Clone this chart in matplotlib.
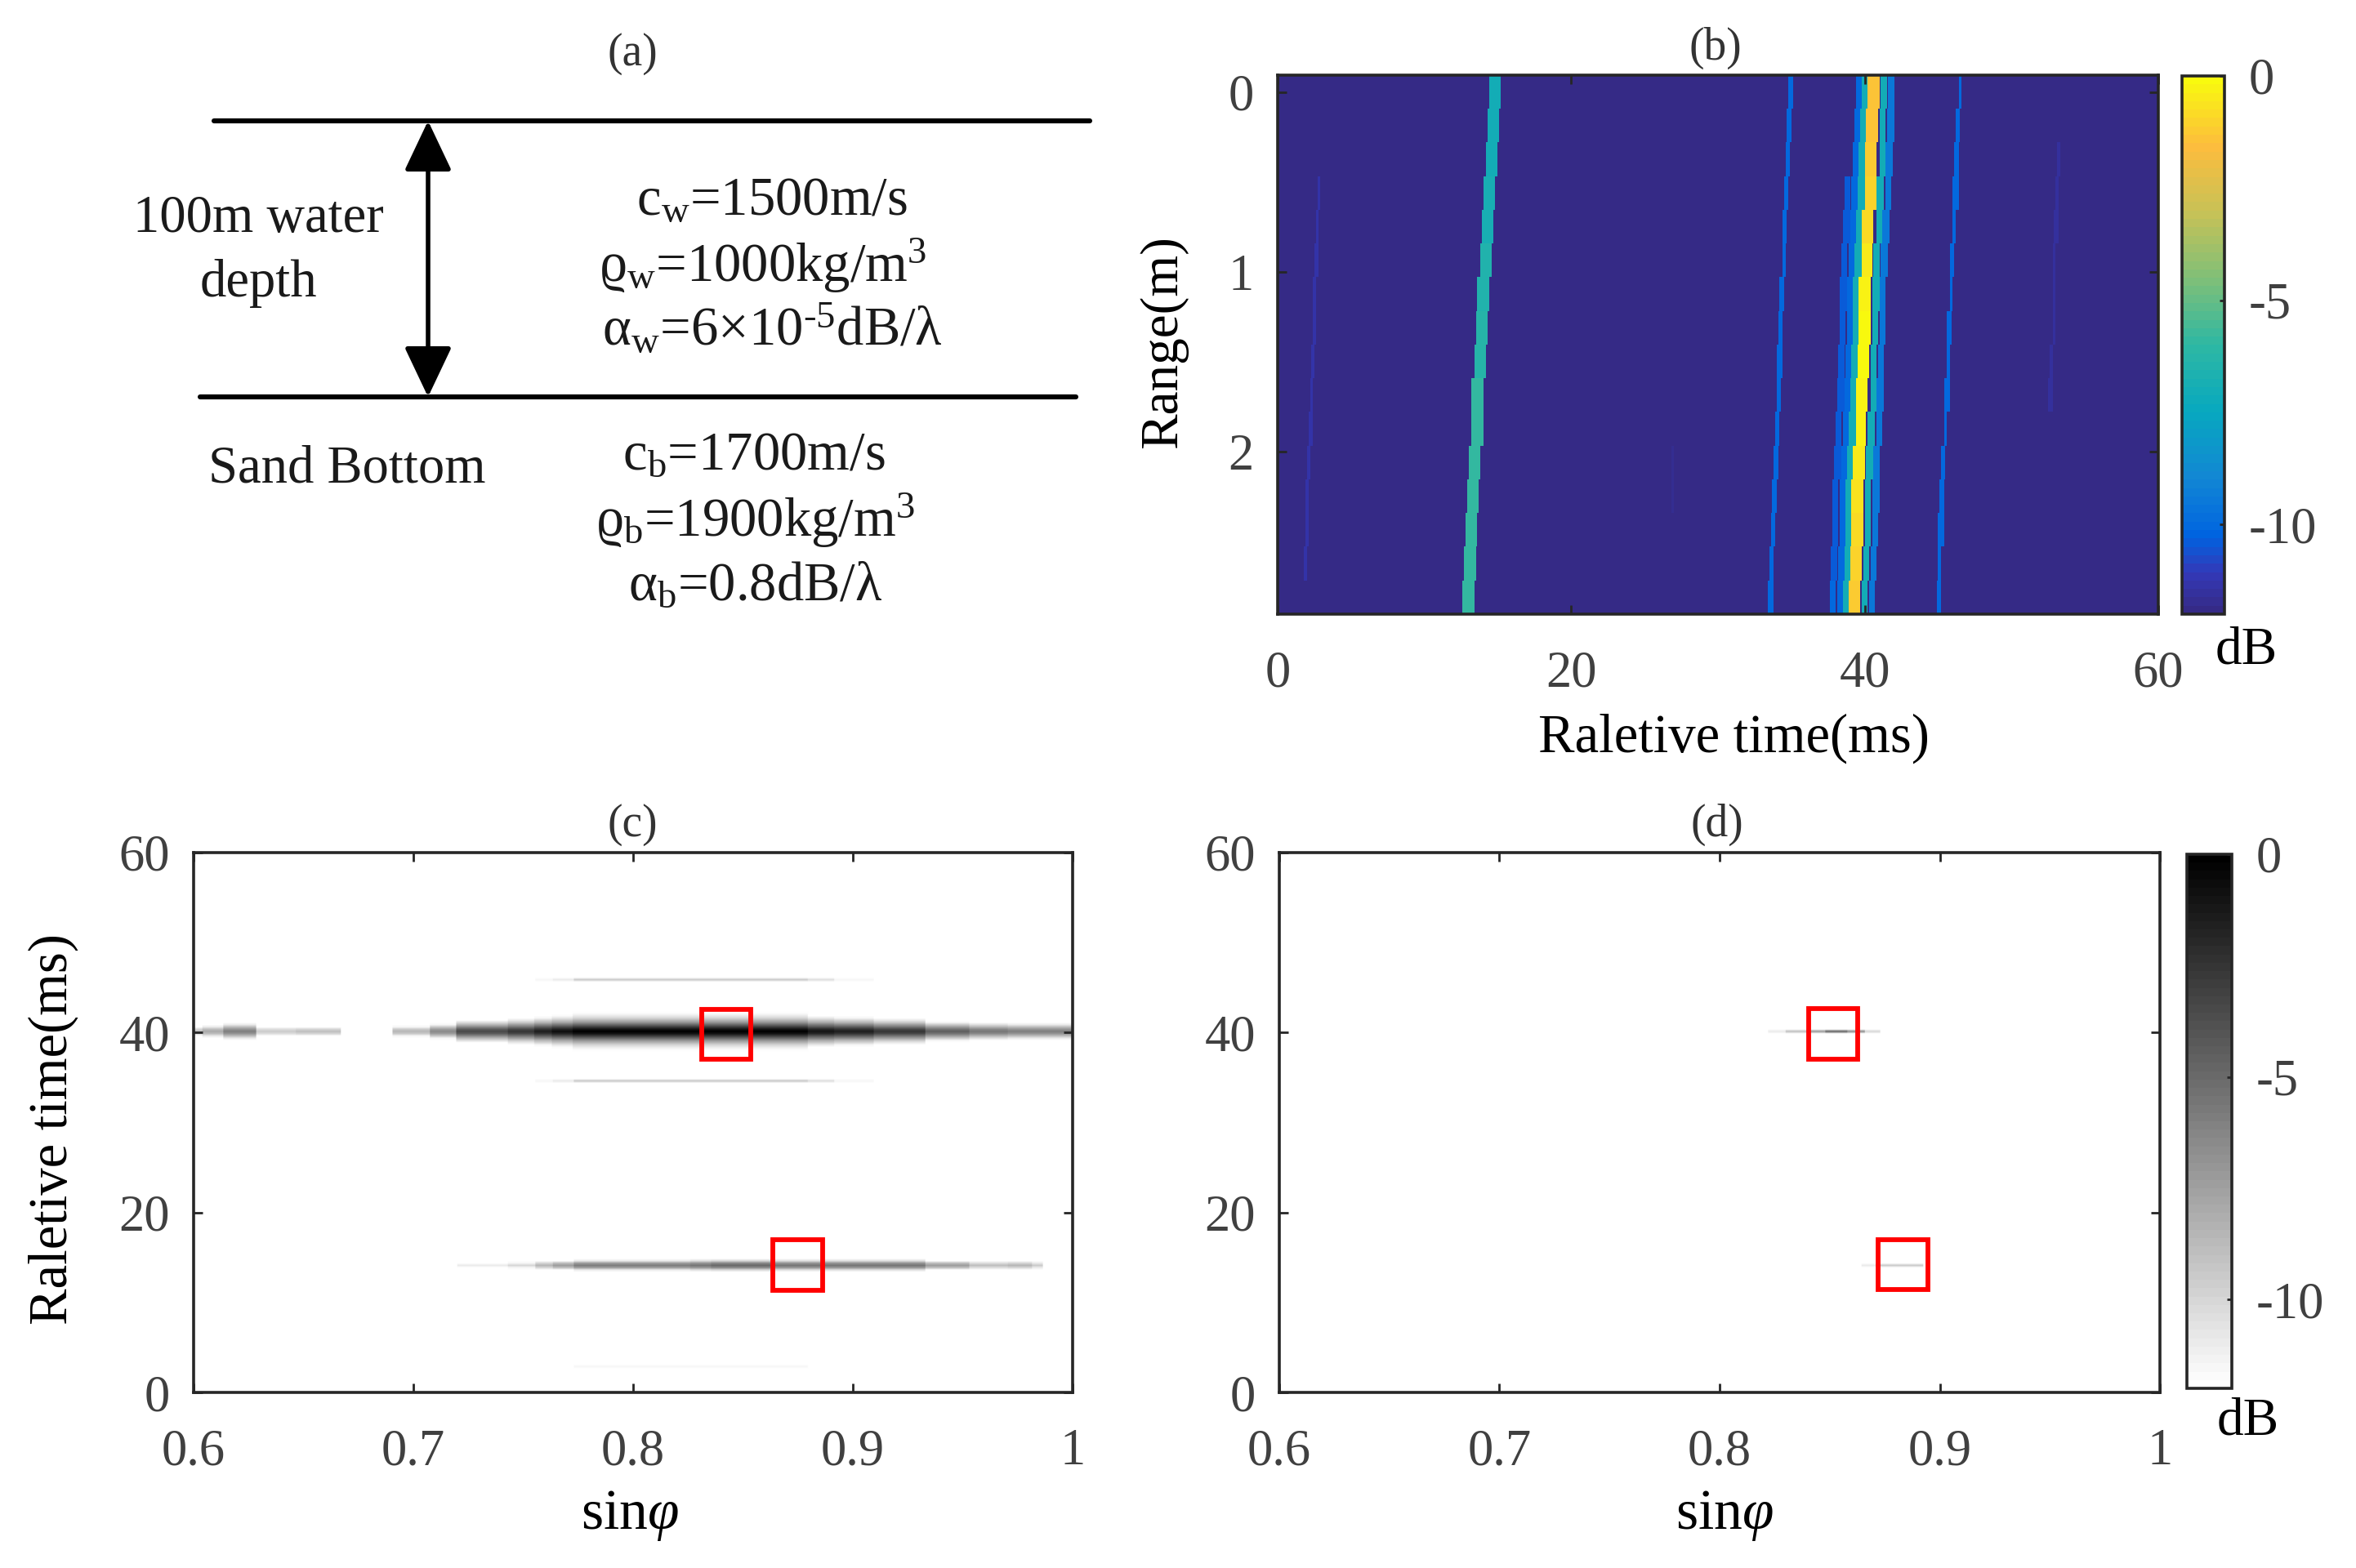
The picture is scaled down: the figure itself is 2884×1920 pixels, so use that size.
import numpy as np
import matplotlib
matplotlib.use('Agg')
import matplotlib.pyplot as plt
from matplotlib.colors import LinearSegmentedColormap
from matplotlib.patches import FancyArrowPatch, Rectangle

plt.rcParams['font.family'] = ['Liberation Serif', 'DejaVu Serif']
plt.rcParams['mathtext.fontset'] = 'custom'
plt.rcParams['mathtext.rm'] = 'Liberation Serif'
plt.rcParams['mathtext.it'] = 'Liberation Serif:italic'
plt.rcParams['mathtext.bf'] = 'Liberation Serif:bold'
plt.rcParams['axes.unicode_minus'] = False

W, H = 2884, 1920

# (b) arrival time (ms) of each stripe, one value per range step
n_rows = 16
track_direct = [14.75, 14.7, 14.55, 14.45, 14.3, 14.15, 14.05, 13.9,
                13.8, 13.65, 13.55, 13.4, 13.3, 13.2, 13.1, 13.05]
track_direct_db = [-7, -7, -7, -6.8, -6.8, -6.5, -6.5, -6.3,
                   -6.3, -6, -6, -6, -6, -6, -6, -6]
track_left = [34.95, 34.85, 34.75, 34.65, 34.55, 34.5, 34.4, 34.3,
              34.2, 34.15, 34.05, 33.95, 33.85, 33.75, 33.65, 33.6]
track_main = [40.6, 40.55, 40.45, 40.35, 40.25, 40.15, 40.05, 40.0,
              39.9, 39.85, 39.75, 39.65, 39.55, 39.5, 39.4, 39.3]
track_main_db = [-1.5, -1.5, -1.2, -1, -0.8, -0.5, -0.3, 0,
                 0, -0.2, -0.3, -0.5, -0.6, -0.8, -1, -1.3]
track_right = [46.5, 46.4, 46.3, 46.2, 46.1, 46.0, 45.9, 45.8,
               45.7, 45.6, 45.5, 45.4, 45.3, 45.2, 45.1, 45.05]
main_side_offsets = [-1.0, -0.6, 0.7, 1.2]
main_side_db = [-10, -7, -7, -9.5]
main_far_left_db = [-12, -12, -12, -10.5, -10.5, -10.5, -10.5, -10.5,
                    -10.5, -10.5, -10.5, -10.5, -10.5, -10.5, -10.5, -10]
faint_left_rows = [3, 4, 5, 6, 7, 8, 9, 10, 11, 12, 13, 14]
faint_left = [2.8, 2.7, 2.65, 2.55, 2.5, 2.4, 2.3, 2.25, 2.15, 2.05, 2.0, 1.9]
faint_right_rows = [2, 3, 4, 5, 6, 7, 8, 9]
faint_right = [53.2, 53.1, 53.05, 52.95, 52.9, 52.85, 52.75, 52.65]
faint_mid_rows = [11, 12]
faint_mid = [26.9, 26.9]

# (c) stripes: segment edges in sin(phi) and peak level (dB) per segment
main_edges = [0.6, 0.604, 0.6136, 0.6286, 0.6463, 0.6668, 0.6907, 0.7076, 0.7196,
              0.7428, 0.755, 0.7632, 0.7727, 0.8793, 0.8916, 0.9093, 0.933,
              0.9529, 0.9706, 0.9815, 0.9864, 1.0]
main_peaks = [-9, -8, -6, -9.5, -9, -12, -8.5, -6.5, -3.5, -2.5, -1.5, -0.7, 0,
              -1, -1.5, -2.5, -4.5, -5.5, -6, -6, -6]
low_edges = [0.7199, 0.7431, 0.7553, 0.7635, 0.773, 0.8262, 0.8357, 0.8629,
             0.8916, 0.9093, 0.933, 0.9529, 0.9706, 0.9815, 0.9864]
low_peaks = [-11, -10, -8.5, -7.5, -6, -5.5, -5, -5.5, -5.5, -5.5, -7.5, -9, -8.5, -9.5]
lobe_edges = [0.7553, 0.7635, 0.773, 0.8793, 0.8916, 0.9093]
lobe_peaks = [-11.6, -11, -9.5, -10.5, -11.5]
bottom_edges = [0.773, 0.8793]
bottom_peaks = [-11.5]
top_edges = [0.8262, 0.856]
top_peaks = [-11.85]
mid_edges = [0.8488, 0.861]
mid_peaks = [-11.9]

main_t, low_t, lobe_up_t, lobe_down_t, bottom_t, top_t, mid_t = 40.0, 14.1, 45.7, 34.4, 2.65, 52.7, 27.3
main_offs = [-2.0, -1.75, -1.5, -1.25, -1, -0.75, -0.5, -0.25, 0, 0.25, 0.5, 0.75, 1, 1.25, 1.5, 1.75, 2.0]
main_drops = [11.8, 11, 10, 8.5, 7, 5, 3, 1, 0, 1, 3, 5, 7, 8.5, 10, 11, 11.8]
low_offs = [-0.5, -0.25, 0, 0.25, 0.5]
low_drops = [5, 1.5, 0, 1.5, 5]
thin_offs = [0]
thin_drops = [0]

# (d) the two lines left after processing
d_up_edges = [0.822, 0.83, 0.84, 0.848, 0.858, 0.866, 0.873]
d_up_peaks = [-11, -9, -7, -4.5, -6.5, -10]
d_low_edges = [0.8647, 0.872, 0.8925]
d_low_peaks = [-11, -9.5]
d_up_t, d_low_t = 40.0, 14.0

# red boxes: (sin left, sin right, t low, t high)
boxes_c = [(0.8312, 0.8535, 37.0, 42.6), (0.8637, 0.8862, 11.35, 17.0)]
boxes_d = [(0.8406, 0.8628, 37.0, 42.7), (0.8721, 0.8947, 11.4, 17.0)]

cbar_ticks = [-10, -5, 0]
cbar_ticklabels = ['-10', '-5', '0']
time_ticks = [0, 20, 40, 60]
range_ticks = [0, 1, 2]
sin_ticks = [0.6, 0.7, 0.8, 0.9, 1.0]
sin_ticklabels = ['0.6', '0.7', '0.8', '0.9', '1']

parula = LinearSegmentedColormap.from_list('parula_old', [
    (0.00, (0.2081, 0.1663, 0.5292)),
    (0.07, (0.20, 0.22, 0.72)),
    (0.14, (0.0, 0.39, 0.88)),
    (0.25, (0.07, 0.53, 0.83)),
    (0.375, (0.03, 0.66, 0.75)),
    (0.5, (0.18, 0.72, 0.64)),
    (0.625, (0.50, 0.75, 0.47)),
    (0.75, (0.78, 0.76, 0.34)),
    (0.875, (0.99, 0.74, 0.24)),
    (1.00, (0.976, 0.98, 0.055))], N=64)
grays = LinearSegmentedColormap.from_list('gray64', ['white', 'black'], N=64)

DARK = '#262626'
LABEL = '#404040'


def px_axes(fig, left, top, right, bottom):
    return fig.add_axes([left / W, 1 - bottom / H, (right - left) / W, (bottom - top) / H])


def px_text(fig, x, y, s, **kw):
    kw.setdefault('ha', 'center')
    kw.setdefault('va', 'center')
    kw.setdefault('color', 'black')
    fig.text(x / W, 1 - y / H, s, **kw)


def style_axes(ax, xticks, yticks, xlabels=None):
    ax.set_xticks(xticks)
    ax.set_yticks(yticks)
    if xlabels is not None:
        ax.set_xticklabels(xlabels)
    ax.tick_params(direction='in', length=8, width=2, top=True, right=True, color=DARK)
    ax.tick_params(axis='x', pad=32, labelsize=45, labelcolor=LABEL)
    ax.tick_params(axis='y', pad=21, labelsize=45, labelcolor=LABEL)
    for sp in ax.spines.values():
        sp.set_linewidth(2.6)
        sp.set_color(DARK)


def style_cbar(cb):
    cb.set_ticks(cbar_ticks)
    cb.set_ticklabels(cbar_ticklabels)
    cb.ax.tick_params(direction='in', length=4, width=2, color=DARK, pad=21,
                      labelsize=45, labelcolor=LABEL)
    cb.outline.set_linewidth(2.6)
    cb.outline.set_edgecolor(DARK)


# grid helpers for the images
def stamp_row(grid, row, t, width, db, dt=0.1):
    c0 = int(round((t - width / 2) / dt))
    c1 = int(round((t + width / 2) / dt))
    grid[row, c0:c1] = np.maximum(grid[row, c0:c1], db)


def stamp_stripe(grid, t0, edges, peaks, offs, drops, dx=0.0005, dt=0.25):
    for i, pk in enumerate(peaks):
        c0 = int(round((edges[i] - 0.6) / dx))
        c1 = int(round((edges[i + 1] - 0.6) / dx))
        for off, drop in zip(offs, drops):
            r = int(round((t0 + off) / dt))
            grid[r, c0:c1] = np.maximum(grid[r, c0:c1], pk - drop)


fig = plt.figure(figsize=(W / 100, H / 100), dpi=100)

# (a) layer diagram, drawn in pixel units
ax_a = fig.add_axes([0, 0, 1, 1], zorder=0)
ax_a.set_xlim(0, W)
ax_a.set_ylim(H, 0)
ax_a.axis('off')
ax_a.plot([262, 1334], [148, 148], color='black', lw=4.4, solid_capstyle='round')
ax_a.plot([245, 1317], [486, 486], color='black', lw=4.4, solid_capstyle='round')
ax_a.add_patch(FancyArrowPatch((524, 148), (524, 486), arrowstyle='<|-|>,head_length=38,head_width=18',
                               mutation_scale=1, lw=4, color='black', shrinkA=0, shrinkB=0))
TXT = dict(fontsize=46.5, color='#1a1a1a')
TXT_EQ = dict(fontsize=48, color='#1a1a1a')
px_text(fig, 774, 66, '(a)', fontsize=40, color='#333333')
px_text(fig, 316, 268, '100m water', **TXT)
px_text(fig, 316, 347, 'depth', **TXT)
px_text(fig, 945, 246, r'c$_{\mathrm{w}}$=1500m/s', **TXT_EQ)
px_text(fig, 934, 325, r'ϱ$_{\mathrm{w}}$=1000kg/m$^{3}$', **TXT_EQ)
px_text(fig, 945, 404, r'α$_{\mathrm{w}}$=6×10$^{\text{-5}}$dB/λ', **TXT_EQ)
px_text(fig, 425, 575, 'Sand Bottom', **TXT)
px_text(fig, 923, 558, r'c$_{\mathrm{b}}$=1700m/s', **TXT_EQ)
px_text(fig, 925, 637, r'ϱ$_{\mathrm{b}}$=1900kg/m$^{3}$', **TXT_EQ)
px_text(fig, 925, 718, r'α$_{\mathrm{b}}$=0.8dB/λ', **TXT_EQ)

# (b)
grid_b = np.full((n_rows, 600), -12.0)
for r in range(n_rows):
    stamp_row(grid_b, r, track_direct[r], 0.8, track_direct_db[r])
    stamp_row(grid_b, r, track_left[r], 0.3, -10)
    stamp_row(grid_b, r, track_right[r], 0.3, -10)
    stamp_row(grid_b, r, track_main[r] - 1.5, 0.4, main_far_left_db[r])
    for off, db in zip(main_side_offsets, main_side_db):
        stamp_row(grid_b, r, track_main[r] + off, 0.4, db)
    stamp_row(grid_b, r, track_main[r], 0.8, track_main_db[r])
for r, t in zip(faint_left_rows, faint_left):
    stamp_row(grid_b, r, t, 0.2, -11.4)
for r, t in zip(faint_right_rows, faint_right):
    stamp_row(grid_b, r, t, 0.2, -11.6)
for r, t in zip(faint_mid_rows, faint_mid):
    stamp_row(grid_b, r, t, 0.2, -11.7)

ax_b = px_axes(fig, 1564, 92, 2642, 752)
im_b = ax_b.imshow(grid_b, extent=[0, 60, 2.905, -0.095], aspect='auto', cmap=parula,
                   vmin=-12, vmax=0, interpolation='nearest')
style_axes(ax_b, time_ticks, range_ticks)
cax_b = px_axes(fig, 2671, 93, 2723, 752)
style_cbar(fig.colorbar(im_b, cax=cax_b))
px_text(fig, 2100, 59, '(b)', fontsize=40, color='#333333')
px_text(fig, 2122, 904, 'Raletive time(ms)', fontsize=48)
px_text(fig, 1424, 419, 'Range(m)', fontsize=47, rotation=90)
px_text(fig, 2750, 797, 'dB', fontsize=47)

# (c)
grid_c = np.full((240, 800), -12.0)
stamp_stripe(grid_c, main_t, main_edges, main_peaks, main_offs, main_drops)
stamp_stripe(grid_c, low_t, low_edges, low_peaks, low_offs, low_drops)
stamp_stripe(grid_c, lobe_up_t, lobe_edges, lobe_peaks, thin_offs, thin_drops)
stamp_stripe(grid_c, lobe_down_t, lobe_edges, lobe_peaks, thin_offs, thin_drops)
stamp_stripe(grid_c, bottom_t, bottom_edges, bottom_peaks, thin_offs, thin_drops)
stamp_stripe(grid_c, top_t, top_edges, top_peaks, thin_offs, thin_drops)
stamp_stripe(grid_c, mid_t, mid_edges, mid_peaks, thin_offs, thin_drops)

ax_c = px_axes(fig, 237, 1044, 1313, 1705)
ax_c.imshow(grid_c, extent=[0.6, 1.0, 0, 60], origin='lower', aspect='auto', cmap=grays,
            vmin=-12, vmax=0, interpolation='bilinear')
style_axes(ax_c, sin_ticks, time_ticks, sin_ticklabels)
for x0, x1, t0, t1 in boxes_c:
    ax_c.add_patch(Rectangle((x0, t0), x1 - x0, t1 - t0, fill=False, edgecolor='#ff0000', lw=4.2))
px_text(fig, 774, 1010, '(c)', fontsize=40, color='#333333')
px_text(fig, 65, 1383, 'Raletive time(ms)', fontsize=48, rotation=90)
px_text(fig, 771, 1856, r'sin$\mathit{\varphi}$', fontsize=50)

# (d)
grid_d = np.full((240, 800), -12.0)
stamp_stripe(grid_d, d_up_t, d_up_edges, d_up_peaks, thin_offs, thin_drops)
stamp_stripe(grid_d, d_low_t, d_low_edges, d_low_peaks, thin_offs, thin_drops)

ax_d = px_axes(fig, 1566, 1044, 2644, 1705)
im_d = ax_d.imshow(grid_d, extent=[0.6, 1.0, 0, 60], origin='lower', aspect='auto', cmap=grays,
                   vmin=-12, vmax=0, interpolation='bilinear')
style_axes(ax_d, sin_ticks, time_ticks, sin_ticklabels)
for x0, x1, t0, t1 in boxes_d:
    ax_d.add_patch(Rectangle((x0, t0), x1 - x0, t1 - t0, fill=False, edgecolor='#ff0000', lw=4.2))
cax_d = px_axes(fig, 2677, 1046, 2732, 1700)
style_cbar(fig.colorbar(im_d, cax=cax_d))
px_text(fig, 2102, 1010, '(d)', fontsize=40, color='#333333')
px_text(fig, 2111, 1856, r'sin$\mathit{\varphi}$', fontsize=50)
px_text(fig, 2752, 1741, 'dB', fontsize=47)

fig.savefig('out.png', dpi=100)
